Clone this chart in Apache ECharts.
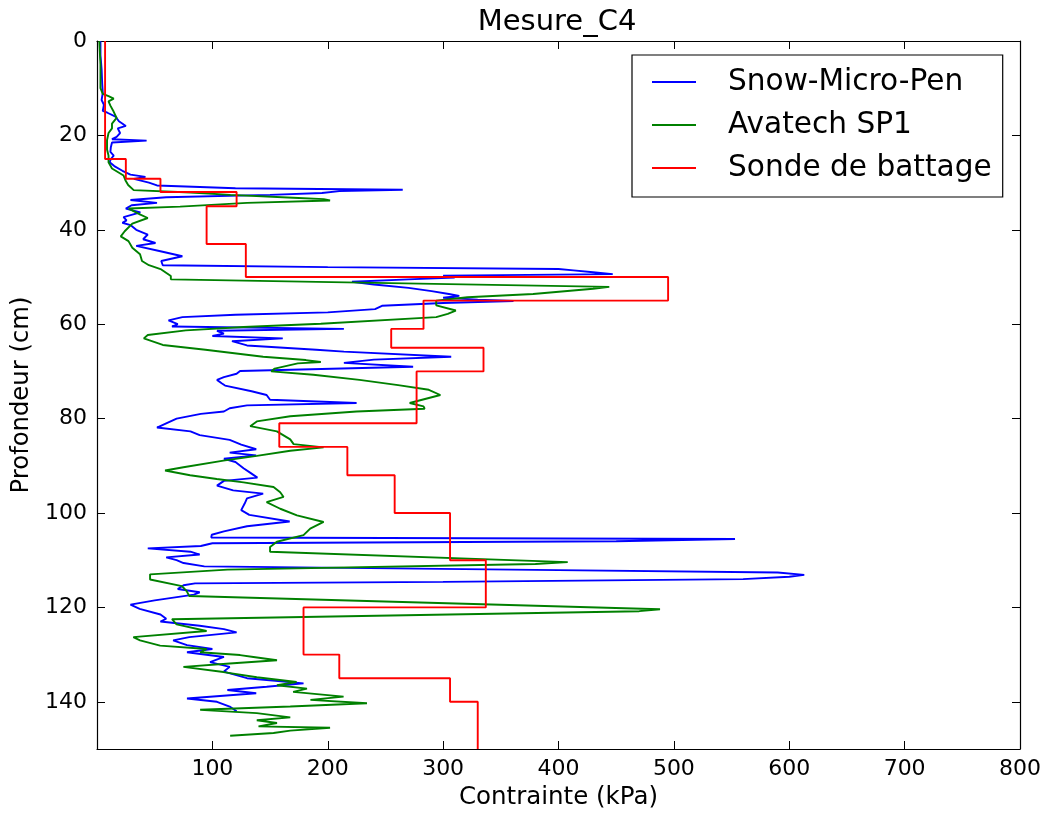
<!DOCTYPE html>
<html>
<head>
<meta charset="utf-8">
<script src="https://cdn.jsdelivr.net/npm/echarts@6/dist/echarts.min.js"></script>
<style>
  html, body { margin: 0; padding: 0; background: #fff; }
  #chart { width: 1046px; height: 815px; }
</style>
</head>
<body>
<div id="chart"></div>
<script>
// Snow-Micro-Pen : profondeur (cm) / contrainte (kPa)
const smpDepth = [0, 3, 6, 9, 11, 12.5, 13.5, 14.8, 15.2, 16, 17, 18, 18.5, 19.5, 20.3, 20.8, 21.1, 21.5, 22.5, 23.5,
  24.3, 25, 25.7, 26.5, 27.5, 28.3, 28.8, 29.2, 30, 30.6, 31.2, 31.5, 31.8, 32.2, 32.6, 33.1, 33.7, 34.3, 34.8, 35.5,
  36.3, 37.3, 38, 38.5, 39, 40, 41, 42, 42.8, 43.4, 44.5, 45.6, 46.6, 47.5, 47.9, 48.3, 48.6, 49, 49.4, 49.7,
  50.1, 50.5, 51, 51.6, 52.3, 53, 53.6, 54, 54.4, 54.8, 55.1, 55.5, 56.1, 56.8, 57.5, 58, 58.5, 59.2, 60, 60.5,
  61, 61.4, 62, 62.5, 63, 63.6, 64.5, 65.4, 65.8, 66.9, 67.5, 68.2, 69, 69.9, 70.5, 71.2, 71.8, 72.5, 73, 74.2,
  75, 76, 76.7, 77.2, 77.8, 78.5, 79, 80, 81, 81.9, 82.7, 83.5, 84.5, 85.5, 86.5, 87.2, 87.8, 88.5, 89.2, 90.5,
  91.5, 92.5, 93.2, 94.2, 95.2, 95.9, 96.9, 98, 99.4, 100.4, 101.8, 102.8, 103.9, 104.6, 105.2, 105.5, 106, 106.4, 107, 107.5,
  108.2, 108.8, 109.4, 110, 110.6, 111.3, 111.7, 112.1, 112.6, 113.1, 113.5, 114, 114.6, 114.9, 115.3, 116.1, 116.8, 117.3, 118.5, 119.4,
  120.3, 121.5, 122.4, 123, 123.9, 124.6, 125.3, 126.3, 127, 128, 128.8, 129.5, 130.5, 131.6, 132.6, 133.6, 135, 136.1, 136.8, 137.5,
  138.2, 139.3, 140, 141, 142];
const smpForce = [3, 3, 4, 4.5, 5, 4, 6, 5, 9, 16, 19, 25, 18, 20, 17, 13, 43, 13, 12, 11.6,
  14.5, 12, 11, 15, 22, 29, 42, 32, 45, 52, 120, 265, 210, 195, 150, 60, 29, 52, 30, 25,
  37.6, 23, 25.6, 22, 29, 34, 44, 40, 50.7, 34, 54, 74, 55.7, 57, 200, 400, 413, 430, 447, 300,
  310, 270, 221, 240, 270, 290, 305, 314, 300, 330, 361, 300, 247, 241, 200, 120, 74, 62, 70, 65,
  214, 104, 110, 100, 161, 117, 130, 190, 214, 307, 240, 214, 274, 124, 121, 110, 104, 108, 111, 134,
  147, 150, 225, 130, 115, 110, 90, 69, 60, 52, 81, 89, 115, 125, 138, 115, 138, 110, 120, 127,
  133, 139, 110, 104, 118, 144, 130, 128, 125, 132, 167, 130, 110, 99.5, 99, 553, 450, 100, 90, 44,
  81, 89, 60, 69, 75, 93, 93, 400, 590, 613, 600, 560, 300, 85, 75, 70, 89, 84, 50, 29,
  37, 55, 60, 55, 89, 110, 121, 80, 66, 78, 100, 78, 110, 98, 115, 110, 130, 179, 147, 113,
  138, 78, 104, 115, 121];

// Avatech SP1
const avaDepth = [0, 5, 10, 11.2, 11.7, 12.2, 12.8, 13.7, 15, 16.3, 17.5, 18.5, 19.5, 21, 23, 24.3, 25.7, 27, 28.5, 29.5,
  30.5, 31.6, 32.1, 32.6, 33.2, 33.5, 33.8, 34.3, 35.1, 35.5, 36.8, 37.5, 37.9, 38.7, 40.3, 41.4, 42.4, 43.8, 45.2, 46.6,
  47.5, 48.4, 49.8, 50.5, 52.1, 52.5, 53.6, 54.3, 55, 56, 57.1, 57.8, 58.5, 59.9, 60.6, 61.3, 62.3, 63, 64.4, 65.4,
  66.9, 67.6, 68, 68.3, 69.4, 70, 70.7, 71.8, 72.9, 73.9, 75, 76.7, 77.4, 77.9, 78.5, 79.5, 80.6, 81.6, 82.7, 84.4,
  85.4, 86.1, 86.8, 87.9, 88.9, 90.3, 91, 92, 92.8, 93.5, 94.5, 95.6, 96.6, 97.7, 99.1, 100.5, 101.9, 103.3, 104.7, 106.1,
  107.2, 108.2, 110.4, 110.8, 112, 113, 114.1, 115.5, 116.5, 117.6, 120.4, 120.8, 122.5, 123.6, 125, 126.3, 127, 128.1, 128.8, 129.5,
  130.1, 130.5, 131.2, 131.9, 132.6, 133.7, 134.8, 135.8, 136.5, 137.2, 137.9, 138.9, 139.6, 140.3, 141, 141.7, 142.4, 143.3, 143.9, 144.5,
  145.2, 145.5, 146.1, 146.6, 147.2];
const avaForce = [2, 3, 3, 5, 10, 14.5, 10, 11.6, 14.5, 17, 13, 13, 10, 8.7, 8.7, 10, 10, 13, 23, 24.6,
  27, 31.8, 81, 115.6, 170, 196.5, 202, 130, 72, 27.5, 37.6, 44, 43, 30.6, 24, 20.6, 27.3, 30.6, 37.3, 39,
  45, 55.7, 64, 64, 444, 430, 378, 321, 294, 294, 311, 304, 294, 194, 127, 77, 44, 40.6, 57, 94,
  144, 181, 194, 174, 154, 151, 187.5, 227.5, 261, 287.6, 297.6, 271, 283, 284, 225, 167.5, 138.5, 132.8, 155.9, 167.5,
  170.4, 196.4, 167.5, 138.5, 109.6, 74.9, 59, 80.7, 103.8, 127, 153, 158.8, 161.7, 147, 158.8, 173.3, 196.4, 184.8, 179, 155.9,
  150, 150, 408, 380, 113, 46, 46, 73.6, 77.6, 80, 488, 470, 65, 69, 95, 31.5, 37.3, 54.7, 95, 89.4,
  124, 135.6, 156, 115, 74.9, 109.6, 138.5, 173, 156, 182, 170, 213.7, 185, 234, 167.5, 89.4, 138.5, 167.5, 138.5, 156,
  140, 202, 167.5, 153, 115.4];

// Sonde de battage (profil en escalier)
const sondeBounds = [0, 25, 29.2, 32, 35, 43, 50, 55, 61, 65, 70, 81, 86, 92, 100, 110, 120, 130, 135, 140, 150];
const sondeValue = [7, 25, 55, 121, 95, 129, 495, 283, 255, 335, 277, 158, 217, 258, 306, 337, 179, 210, 306, 330];

const xTicks = { min: 0, max: 800, step: 100 };
const yTicks = { min: 0, max: 150, step: 20 };

const pairs = (vals, depths) => vals.map((v, i) => [v, depths[i]]);
const stepPairs = [];
sondeValue.forEach((v, i) => {
  stepPairs.push([v, sondeBounds[i]]);
  stepPairs.push([v, sondeBounds[i + 1]]);
});

const chart = echarts.init(document.getElementById('chart'));
const FONT = 'DejaVu Sans';
const tickStyle = { show: true, inside: true, length: 8, lineStyle: { color: '#000', width: 1 } };
const lineAxis = { show: true, onZero: false, lineStyle: { color: '#000', width: 1.2 } };

const option = {
  animation: false,
  backgroundColor: '#fff',
  textStyle: { fontFamily: FONT, color: '#000' },
  title: {
    text: 'Mesure_C4',
    left: 557,
    top: 8,
    padding: 0,
    textAlign: 'center',
    textStyle: { fontFamily: FONT, fontSize: 29, fontWeight: 'normal', color: '#000' }
  },
  legend: {
    orient: 'vertical',
    left: 632,
    top: 55,
    padding: [12, 11, 14, 20],
    itemGap: 13,
    itemWidth: 44,
    itemHeight: 2,
    icon: 'rect',
    borderColor: '#000',
    borderWidth: 1.2,
    backgroundColor: '#fff',
    textStyle: { fontFamily: FONT, fontSize: 29.6, color: '#000', padding: [0, 0, 0, 27], lineHeight: 29.6 },
    data: ['Snow-Micro-Pen', 'Avatech SP1', 'Sonde de battage']
  },
  grid: { left: 97, right: 26, top: 41, bottom: 59, containLabel: false },
  xAxis: [
    {
      type: 'value', min: xTicks.min, max: xTicks.max, interval: xTicks.step, position: 'bottom',
      name: 'Contrainte (kPa)', nameLocation: 'middle', nameGap: 36,
      nameTextStyle: { fontFamily: FONT, fontSize: 24.5, color: '#000' },
      axisLine: lineAxis, axisTick: tickStyle, splitLine: { show: false },
      axisLabel: { fontFamily: FONT, fontSize: 22, color: '#000', margin: 9, showMinLabel: false }
    },
    {
      type: 'value', min: xTicks.min, max: xTicks.max, interval: xTicks.step, position: 'top',
      axisLine: lineAxis, axisTick: tickStyle, splitLine: { show: false }, axisLabel: { show: false }
    }
  ],
  yAxis: [
    {
      type: 'value', inverse: true, min: yTicks.min, max: yTicks.max, interval: yTicks.step, position: 'left',
      name: 'Profondeur (cm)', nameLocation: 'middle', nameGap: 58,
      nameTextStyle: { fontFamily: FONT, fontSize: 24.3, color: '#000' },
      axisLine: lineAxis, axisTick: tickStyle, splitLine: { show: false },
      axisLabel: { fontFamily: FONT, fontSize: 22, color: '#000', margin: 10, showMaxLabel: false }
    },
    {
      type: 'value', inverse: true, min: yTicks.min, max: yTicks.max, interval: yTicks.step, position: 'right',
      axisLine: lineAxis, axisTick: tickStyle, splitLine: { show: false }, axisLabel: { show: false }
    }
  ],
  series: [
    {
      name: 'Snow-Micro-Pen', type: 'line', symbol: 'none', data: pairs(smpForce, smpDepth),
      lineStyle: { color: '#0000ff', width: 1.9 }, itemStyle: { color: '#0000ff' }
    },
    {
      name: 'Avatech SP1', type: 'line', symbol: 'none', data: pairs(avaForce, avaDepth),
      lineStyle: { color: '#008000', width: 1.9 }, itemStyle: { color: '#008000' }
    },
    {
      name: 'Sonde de battage', type: 'line', symbol: 'none', data: stepPairs,
      lineStyle: { color: '#ff0000', width: 1.9 }, itemStyle: { color: '#ff0000' }
    }
  ]
};

chart.setOption(option);
</script>
</body>
</html>
